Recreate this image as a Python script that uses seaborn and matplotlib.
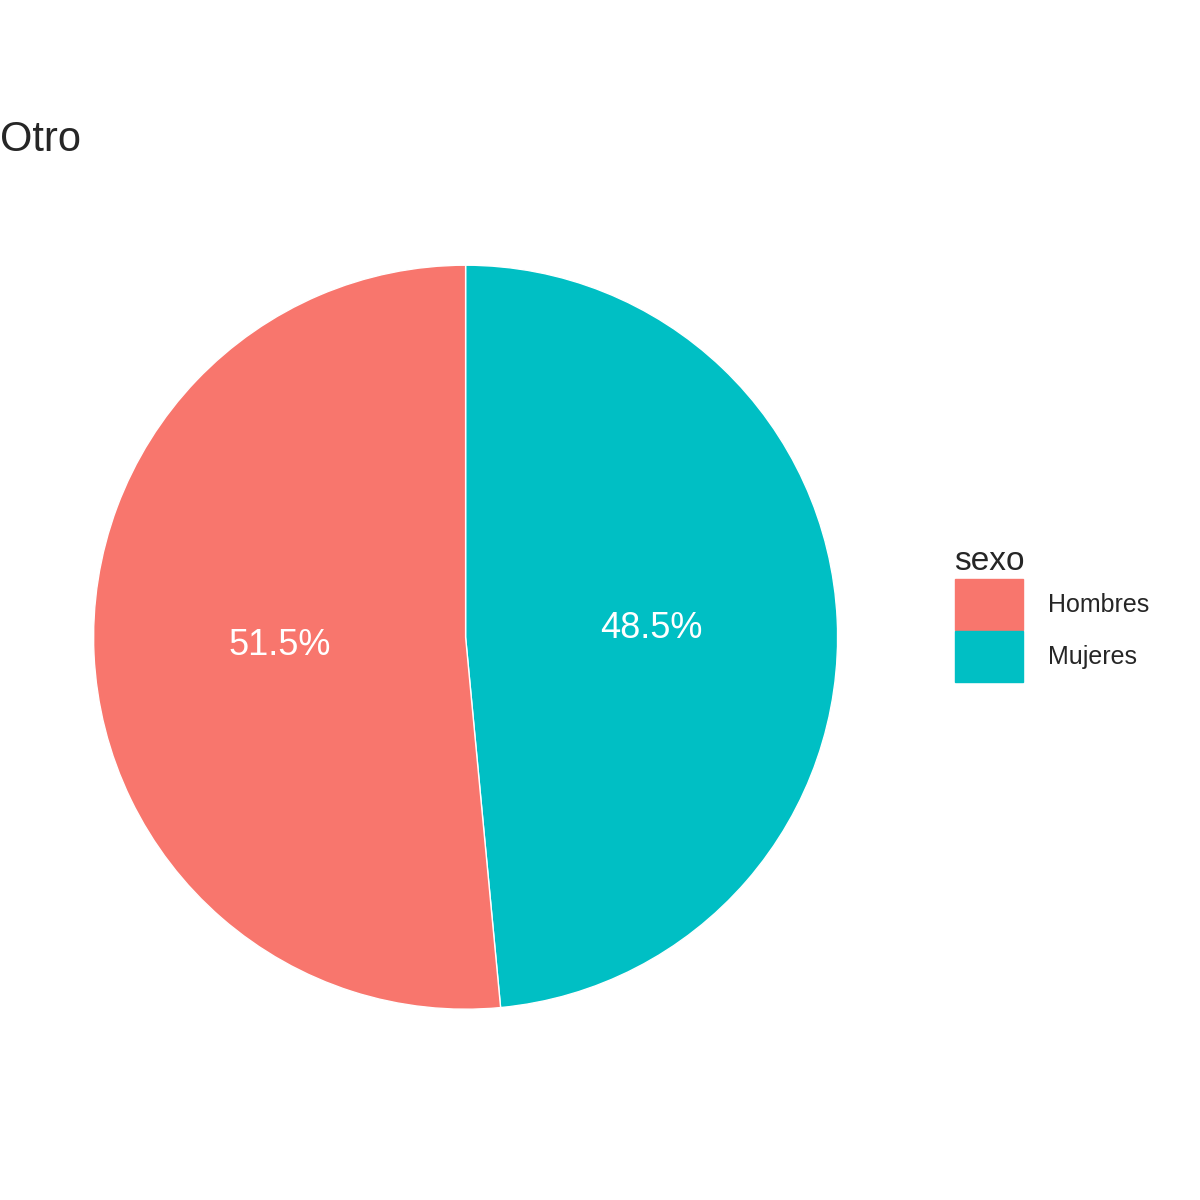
import matplotlib
matplotlib.use("Agg")
import matplotlib.pyplot as plt
import matplotlib.patches as mpatches
import seaborn as sns

sns.set_theme(style="white")
plt.rcParams['font.family'] = ['Liberation Sans', 'DejaVu Sans']

# data
sexo = ['Mujeres', 'Hombres']
pct = [48.5, 51.5]
colors = {'Hombres': '#F8766D', 'Mujeres': '#00BFC4'}

fig = plt.figure(figsize=(12, 12), dpi=100)
ax = fig.add_axes([0.078, 0.159, 0.62, 0.62])
ax.pie(pct, colors=[colors[s] for s in sexo], startangle=90, counterclock=False,
       autopct='%.1f%%', pctdistance=0.5, radius=1.0,
       textprops={'color': 'white', 'fontsize': 26})
ax.set_xlim(-1, 1)
ax.set_ylim(-1, 1)
ax.set_aspect('equal')
ax.axis('off')

fig.text(0.0, 0.883, 'Otro', fontsize=30, va='center', ha='left')

handles = [mpatches.Patch(color=colors[s], label=s) for s in ['Hombres', 'Mujeres']]
leg = fig.legend(handles=handles, title='sexo', loc='upper left',
                 bbox_to_anchor=(0.785, 0.555), frameon=False, fontsize=18,
                 title_fontsize=24, handlelength=2.75, handleheight=2.75,
                 labelspacing=0.05, handletextpad=1.0, borderpad=0)
leg._legend_box.align = 'left'

fig.savefig('out.png', dpi=100)
